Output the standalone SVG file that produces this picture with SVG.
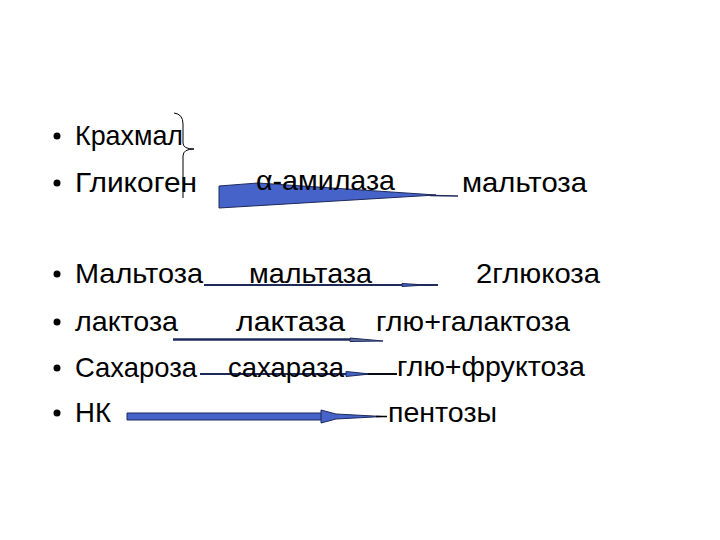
<svg xmlns="http://www.w3.org/2000/svg" width="720" height="540" viewBox="0 0 720 540">
<style>
  text { font-family: "Liberation Sans", Arial, sans-serif; font-size: 28px; fill: #000; }
  .bullet { fill: #000; }
  .line { stroke: #1e2a5a; fill: none; stroke-linecap: butt; }
  .blue { fill: #4563c8; stroke: #1e2a5a; stroke-width: 1; stroke-linejoin: round; }
  .brace { fill: none; stroke: #000; stroke-width: 1; }
</style>
<rect width="720" height="540" fill="#fff"/>
<g id="connectors">
  <!-- brace -->
  <path class="brace" d="M174,113 Q183,114 183,124 L183,143 Q183,149 194,149 Q183,149 183,156 L183,198"/>
  <!-- alpha-amylase arrow -->
  <polygon class="blue" points="219,186 258,183 436,195 219,208"/>
  <line class="line" x1="430" y1="195.5" x2="458" y2="196" stroke="#000" stroke-width="1.5"/>
  <!-- maltase arrow -->
  <line class="line" x1="204" y1="285" x2="438" y2="285" stroke-width="2"/>
  <polygon class="blue" points="402,283.5 426,285 402,286.5"/>
  <!-- lactase arrow -->
  <line class="line" x1="173" y1="339.5" x2="355" y2="339.5" stroke-width="2.5"/>
  <polygon fill="#5a6e9e" stroke="#1e2a5a" stroke-width="1" points="350,338 383,341 350,341.5"/>
  <!-- saccharase arrow -->
  <line class="line" x1="200" y1="374" x2="397" y2="374" stroke-width="2"/>
  <polygon class="blue" points="346,371.5 370,374 346,376.5"/>
  <line x1="368" y1="374" x2="397" y2="374" stroke="#000" stroke-width="1.5"/>
  <!-- NK arrow -->
  <rect class="blue" x="127" y="413" width="198" height="7"/>
  <polygon class="blue" points="321,410 336,414 383,416.5 336,419 321,423"/>
  <line x1="376" y1="416.5" x2="387" y2="416.5" stroke="#000" stroke-width="1.5"/>
</g>
<g id="bullets">
  <circle class="bullet" cx="57" cy="136" r="3.5"/>
  <circle class="bullet" cx="57" cy="183" r="3.5"/>
  <circle class="bullet" cx="57" cy="274" r="3.5"/>
  <circle class="bullet" cx="57" cy="322" r="3.5"/>
  <circle class="bullet" cx="57" cy="368" r="3.5"/>
  <circle class="bullet" cx="57" cy="413" r="3.5"/>
</g>
<g id="n-krakhmal"><text x="75" y="145" textLength="108" lengthAdjust="spacingAndGlyphs">Крахмал</text></g>
<g id="n-glikogen"><text x="75" y="192" textLength="122" lengthAdjust="spacingAndGlyphs">Гликоген</text></g>
<g id="n-amylase"><text x="256" y="190" textLength="139" lengthAdjust="spacingAndGlyphs">α-амилаза</text></g>
<g id="n-maltoza1"><text x="462" y="192" textLength="125" lengthAdjust="spacingAndGlyphs">мальтоза</text></g>
<g id="n-maltoza2"><text x="75" y="283" textLength="128" lengthAdjust="spacingAndGlyphs">Мальтоза</text></g>
<g id="n-maltase"><text x="249" y="283" textLength="123" lengthAdjust="spacingAndGlyphs">мальтаза</text></g>
<g id="n-2glucose"><text x="476" y="283" textLength="124" lengthAdjust="spacingAndGlyphs">2глюкоза</text></g>
<g id="n-laktoza"><text x="75" y="331" textLength="103" lengthAdjust="spacingAndGlyphs">лактоза</text></g>
<g id="n-lactase"><text x="236" y="331" textLength="109" lengthAdjust="spacingAndGlyphs">лактаза</text></g>
<g id="n-glugal"><text x="376" y="331" textLength="194" lengthAdjust="spacingAndGlyphs">глю+галактоза</text></g>
<g id="n-sakharoza"><text x="75" y="377" textLength="122" lengthAdjust="spacingAndGlyphs">Сахароза</text></g>
<g id="n-saccharase"><text x="228" y="377" textLength="116" lengthAdjust="spacingAndGlyphs">сахараза</text></g>
<g id="n-glufruc"><text x="397" y="376" textLength="188" lengthAdjust="spacingAndGlyphs">глю+фруктоза</text></g>
<g id="n-nk"><text x="75" y="422" textLength="36" lengthAdjust="spacingAndGlyphs">НК</text></g>
<g id="n-pentozy"><text x="388" y="422" textLength="109" lengthAdjust="spacingAndGlyphs">пентозы</text></g>
</svg>
